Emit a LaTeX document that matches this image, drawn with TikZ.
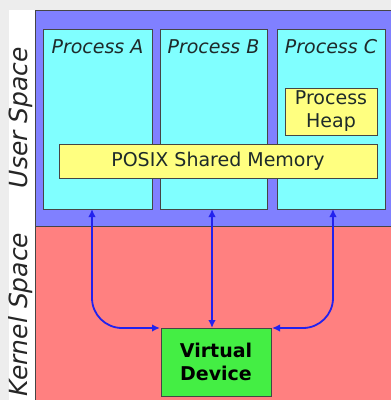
\documentclass[tikz,border=0pt]{standalone}
\usepackage{fontspec}
\setmainfont{DejaVu Sans}
\usetikzlibrary{arrows.meta}
\definecolor{bgray}{HTML}{EDEDED}
\definecolor{uspace}{HTML}{8080FF}
\definecolor{kspace}{HTML}{FF8080}
\definecolor{proccol}{HTML}{80FFFF}
\definecolor{shmcol}{HTML}{FFFF80}
\definecolor{vdevcol}{HTML}{44EE44}
\definecolor{arrcol}{HTML}{2222EE}
\definecolor{edgecol}{HTML}{454545}
\definecolor{txtcol}{HTML}{1E2A2A}
\begin{document}
\begin{tikzpicture}[x=1pt,y=-1pt,
  box/.style={draw=edgecol,line width=0.9pt,anchor=north west,inner sep=0pt,outer sep=0pt},
  procbox/.style={box,fill=proccol},
  yelbox/.style={box,fill=shmcol,text=txtcol,font=\fontsize{19}{23}\selectfont,align=center},
  devbox/.style={box,fill=vdevcol,font=\fontsize{19}{23}\selectfont\bfseries,align=center,text=black},
  proclabel/.style={anchor=base,font=\fontsize{19}{23}\selectfont\itshape,text=txtcol,inner sep=0pt},
  spacelabel/.style={rotate=90,font=\fontsize{25}{30}\selectfont\itshape,text=black!85,inner sep=0pt},
  link/.style={draw=arrcol,line width=1.8pt,{Latex[length=8pt,width=7.5pt]}-{Latex[length=8pt,width=7.5pt]},rounded corners=30pt}
]
\useasboundingbox (0,0) rectangle (391,400);
\fill[bgray] (0,0) rectangle (391,400);
\fill[white] (9,10) rectangle (35,400);
% regions
\node[box,fill=uspace,minimum width=370pt,minimum height=216pt] (user) at (35,10) {};
\node[box,fill=kspace,minimum width=370pt,minimum height=190pt] (kernel) at (35,226) {};
% space labels
\node[spacelabel] (ulab) at (21,117.5) {User Space};
\node[spacelabel] (klab) at (21,314.5) {Kernel Space};
% processes
\node[procbox,minimum width=109pt,minimum height=180pt,
  label={[proclabel,yshift=-24pt]north:Process A}] (procA) at (43,29) {};
\node[procbox,minimum width=107pt,minimum height=180pt,
  label={[proclabel,yshift=-24pt]north:Process B}] (procB) at (160,29) {};
\node[procbox,minimum width=108pt,minimum height=180pt,
  label={[proclabel,yshift=-24pt]north:Process C}] (procC) at (277,29) {};
% heap and shared memory
\node[yelbox,minimum width=92pt,minimum height=47pt] (heap) at (285,88) {Process\\Heap};
\node[yelbox,minimum width=318pt,minimum height=34pt] (shm) at (59,144) {POSIX Shared Memory};
% virtual device
\node[devbox,minimum width=110pt,minimum height=68pt] (vdev) at (161,328) {Virtual\\Device};
% connectors
\draw[link] ([xshift=-5.5pt]procA.south) |- ([xshift=-1pt]vdev.north west);
\draw[link] ([xshift=-1.5pt]procB.south) -- ([xshift=-1.5pt]procB.south |- vdev.north);
\draw[link] ([xshift=2pt]procC.south) |- ([xshift=1pt]vdev.north east);
\end{tikzpicture}
\end{document}
